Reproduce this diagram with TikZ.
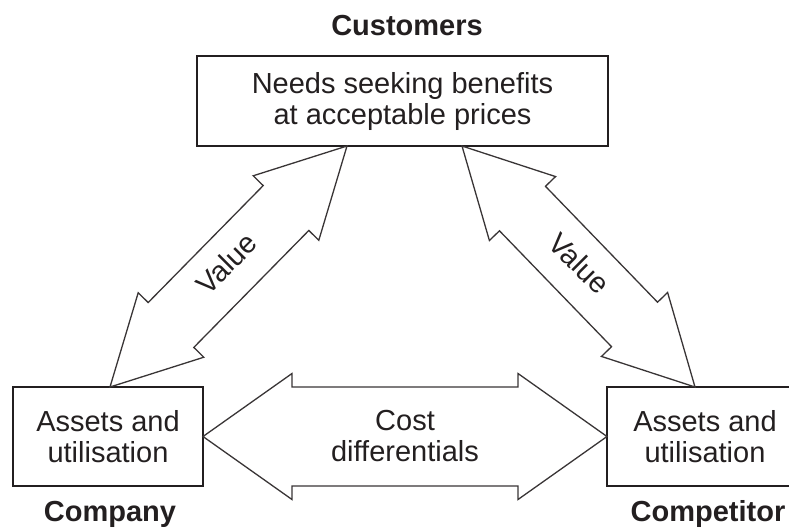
\documentclass[tikz,border=0pt]{standalone}
\usepackage{fontspec}
\setmainfont{Liberation Sans}
\usetikzlibrary{calc}
\definecolor{ink}{HTML}{231F20}
\tikzset{
  boxnode/.style={draw=ink, line width=2.6pt, rectangle, inner sep=0pt, outer sep=0pt, align=center,
    font=\fontsize{29}{31}\selectfont, text=ink},
  title/.style={font=\fontsize{29}{31}\selectfont\bfseries, text=ink, inner sep=0pt},
  lbl/.style={font=\fontsize{29}{31}\selectfont, text=ink, inner sep=0pt, align=center},
  arrowline/.style={draw=ink!90, line width=1.3pt, line join=miter, fill=white}
}
\newcommand\blkarrow[5]{%
  \draw[arrowline] (#1)
    -- ($(#1)!#3!(#2)!#4!90:(#2)$)
    -- ($(#1)!#3!(#2)!#5!90:(#2)$)
    -- ($(#2)!#3!(#1)!#5!-90:(#1)$)
    -- ($(#2)!#3!(#1)!#4!-90:(#1)$)
    -- (#2)
    -- ($(#2)!#3!(#1)!#4!90:(#1)$)
    -- ($(#2)!#3!(#1)!#5!90:(#1)$)
    -- ($(#1)!#3!(#2)!#5!-90:(#2)$)
    -- ($(#1)!#3!(#2)!#4!-90:(#2)$)
    -- cycle;}
\begin{document}
\begin{tikzpicture}[x=1pt,y=-1pt]
\clip (0,0) rectangle (789,528);
\useasboundingbox (0,0) rectangle (789,528);
% boxes
\node[boxnode, minimum width=411pt, minimum height=90pt] (cust) at (402.5,101)
  {Needs seeking benefits\\at acceptable prices};
\node[boxnode, minimum width=190pt, minimum height=99pt] (comp) at (108,436.5)
  {Assets and\\utilisation};
\node[boxnode, minimum width=196pt, minimum height=99pt] (compt) at (705,436.5)
  {Assets and\\utilisation};
% titles
\node[title, anchor=base] (tcust) at (407,35) {Customers};
\node[title, anchor=base] (tcomp) at (110,521) {Company};
\node[title, anchor=base] (tcompt) at (708,521) {Competitor};
% arrow tips
\coordinate (a1) at (comp.north -| 110,0);
\coordinate (a2) at (cust.south -| 347,0);
\coordinate (b1) at (cust.south -| 462,0);
\coordinate (b2) at (compt.north -| 695,0);
\coordinate (c1) at (comp.east);
\coordinate (c2) at (compt.west);
\blkarrow{a1}{a2}{87pt}{46pt}{32pt}
\blkarrow{b1}{b2}{87pt}{46pt}{32pt}
\blkarrow{c1}{c2}{89pt}{63pt}{49.5pt}
% labels
\node[lbl, rotate=45] (v1) at ($(a1)!0.5!(a2)+(-2,-3)$) {Value};
\node[lbl, rotate=-45] (v2) at ($(b1)!0.5!(b2)+(1,-3)$) {Value};
\node[lbl] (cd) at ($(c1)!0.5!(c2)$) {Cost\\differentials};
\end{tikzpicture}
\end{document}
